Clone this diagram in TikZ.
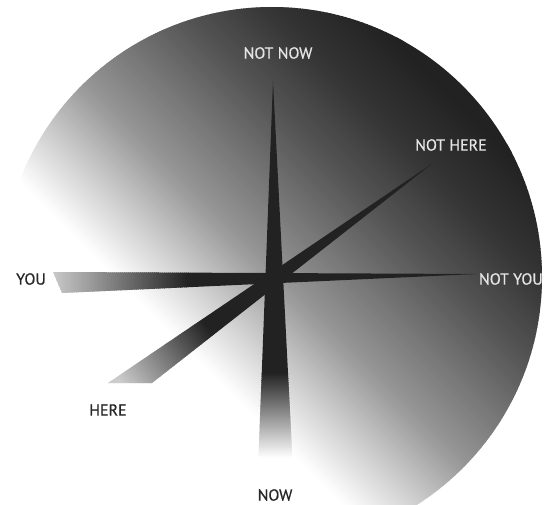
\documentclass[tikz,border=0pt]{standalone}
\usepackage{fontspec}
\setmainfont{PT Sans}
\newfontfamily\lblfont{PT Sans}[FakeBold=0.6]
\definecolor{labellight}{gray}{0.9}
\definecolor{labeldark}{gray}{0.15}
\definecolor{deepgray}{gray}{0.1333}
% background strips along direction 45 deg
\newcommand\gradstrips[3]{%
  \begin{scope}[rotate=45]
    \foreach \k in {0,...,#3}{%
      \pgfmathsetmacro\s{#2+2*\k}%
      \pgfmathsetmacro\g{min(1,max(0,#1(\s)))}%
      \definecolor{stripcol}{gray}{\g}%
      \fill[stripcol] (\s,-900) rectangle (\s+2.6,900);
    }
  \end{scope}}
% spike strips along the spike axis: angle, d0 (dark until), d1, end grey
\newcommand\spikefill[4]{%
  \begin{scope}[shift={(274,277)}, rotate=#1]
    \fill[deepgray] (-600,-120) rectangle (#2+0.6,120);
    \pgfmathtruncatemacro\nstrip{(#3+40-#2)/2}%
    \foreach \k in {0,...,\nstrip}{%
      \pgfmathsetmacro\d{#2+2*\k}%
      \pgfmathsetmacro\g{0.1333+(#4-0.1333)*min(1,max(0,(\d-#2)/(#3-#2)))}%
      \definecolor{stripcol}{gray}{\g}%
      \fill[stripcol] (\d,-120) rectangle (\d+2.6,120);
    }
  \end{scope}}
\begin{document}
\begin{tikzpicture}[x=1pt,y=-1pt,
  declare function={
    lerp(\t,\a,\b,\u,\v)=\u+(\v-\u)*(\t-\a)/(\b-\a);
    bgg(\t)=(\t<(-115)) ? 1 : ((\t<(-75)) ? lerp(\t,-115,-75,1,0.86) : ((\t<0) ? lerp(\t,-75,0,0.86,0.588) : ((\t<75) ? lerp(\t,0,75,0.588,0.424) : ((\t<110) ? lerp(\t,75,110,0.424,0.345) : ((\t<185) ? lerp(\t,110,185,0.345,0.204) : ((\t<250) ? lerp(\t,185,250,0.204,0.1333) : 0.1333))))));
  },
  lbl/.style={font=\lblfont\fontsize{16}{16}\selectfont, inner sep=0pt},
  lbllight/.style={lbl, text=labellight},
  lbldark/.style={lbl, text=labeldark}]
\useasboundingbox (0,0) rectangle (544,505);
\fill[white] (0,0) rectangle (544,505);
% background disc
\begin{scope}
  \clip (272,277) circle (270);
  \gradstrips{bgg}{-120}{187}
  \begin{scope}[rotate=45]
    \fill[deepgray] (254,-900) rectangle (800,900);
  \end{scope}
\end{scope}
% vertical spike (NOT NOW - NOW)
\begin{scope}
  \clip (273,81) -- (293,470) -- (258,470) -- cycle;
  \spikefill{270}{95}{180}{1}
\end{scope}
% diagonal spike (NOT HERE - HERE)
\begin{scope}
  \clip (433,163) -- (152,383) -- (108,383) -- cycle;
  \spikefill{216.2}{82}{185}{0.8}
\end{scope}
% horizontal spike (NOT YOU - YOU)
\begin{scope}
  \clip (477,274) -- (53,272) -- (62,293) -- cycle;
  \spikefill{180}{85}{222}{0.8}
\end{scope}
% labels
\node[lbllight] (notnow) at (278,53) {NOT NOW};
\node[lbllight] (nothere) at (451,145) {NOT HERE};
\node[lbllight, anchor=east] (notyou) at (543,279) {NOT YOU};
\node[lbldark] (you) at (31,279) {YOU};
\node[lbldark] (here) at (108,410) {HERE};
\node[lbldark] (now) at (275,495) {NOW};
\end{tikzpicture}
\end{document}
